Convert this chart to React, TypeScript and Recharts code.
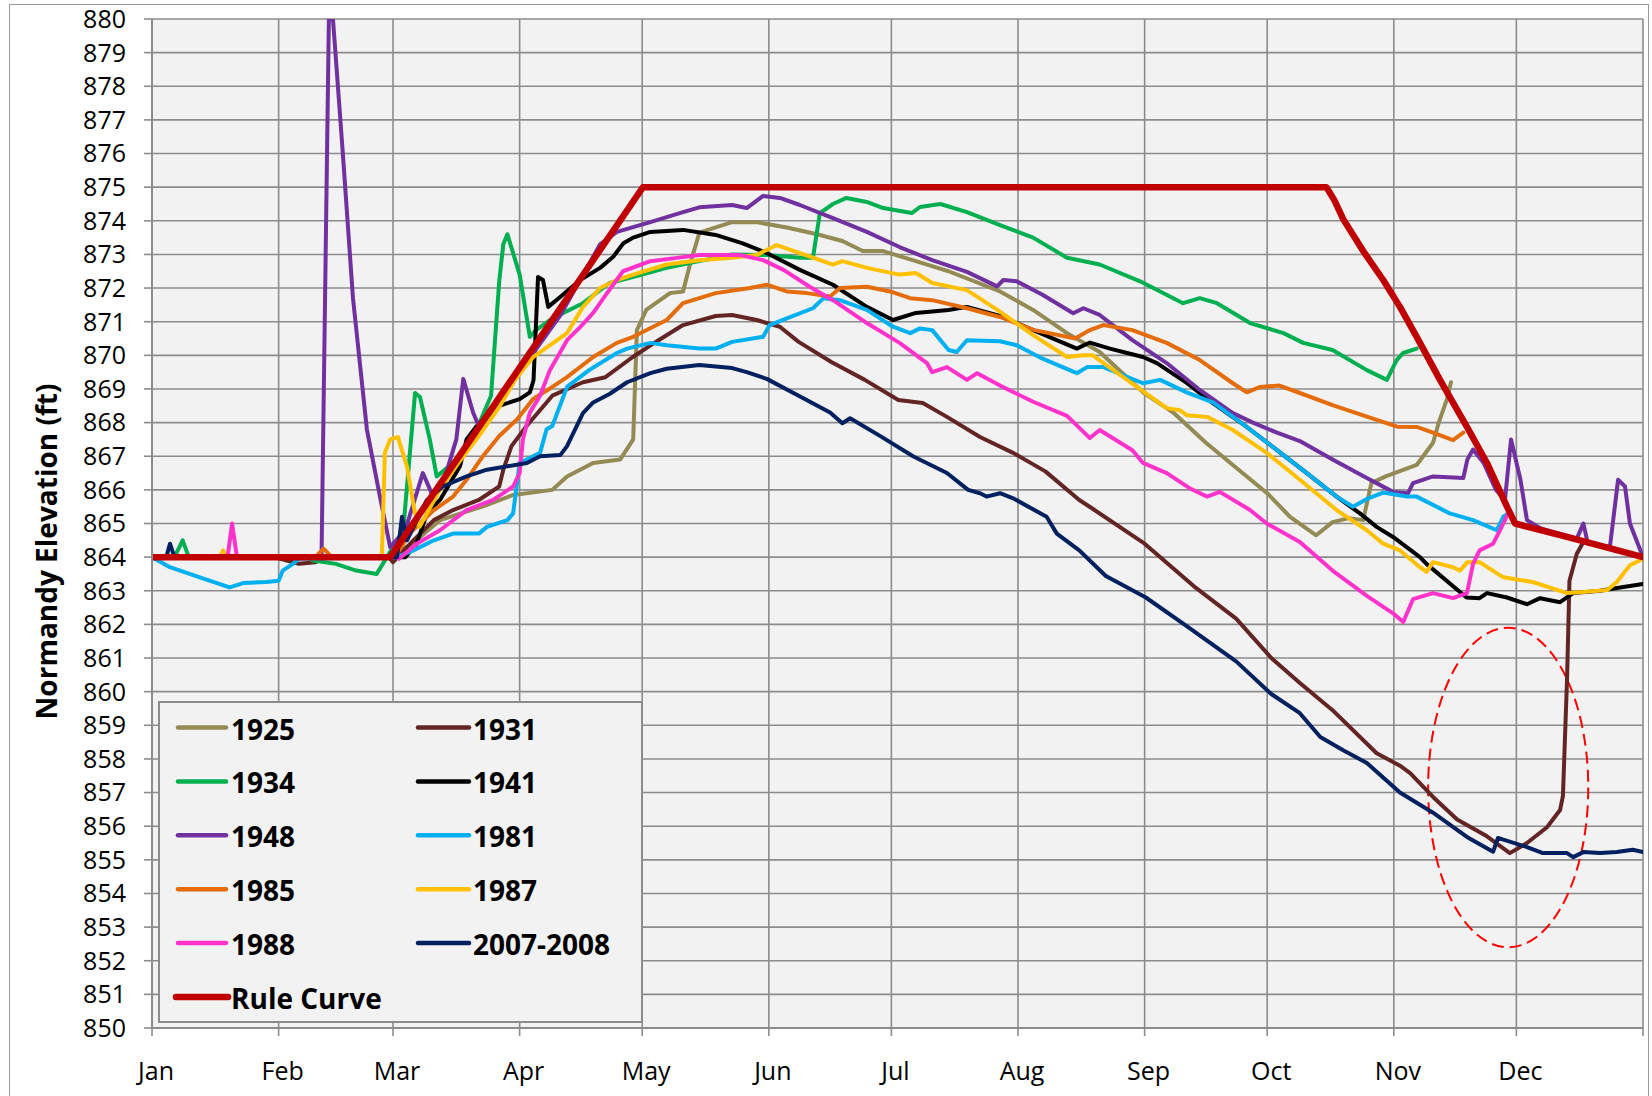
import React from 'react';
import { LineChart, Line, XAxis, YAxis, CartesianGrid, Legend, ReferenceArea } from 'recharts';

// ---------- axes ----------
const monthDays = [0, 31, 59, 90, 120, 151, 181, 212, 243, 273, 304, 334, 365];
const monthLabels = ['Jan', 'Feb', 'Mar', 'Apr', 'May', 'Jun', 'Jul', 'Aug', 'Sep', 'Oct', 'Nov', 'Dec', ''];
const elevationTicks = [850, 851, 852, 853, 854, 855, 856, 857, 858, 859, 860, 861, 862, 863, 864, 865, 866, 867, 868, 869, 870, 871, 872, 873, 874, 875, 876, 877, 878, 879, 880];

// ---------- series: [day of year, elevation ft] ----------
const s1925: [number, number][] = [[0,864],[58,864],[63.9,864.42],[70.5,865.1],[82,865.55],[88.4,865.85],[98,866.0],[101.6,866.4],[108,866.8],[114.6,866.9],[117.8,867.5],[118.7,870.75],[121,871.35],[126.8,871.85],[130,871.9],[131.7,872.7],[134,873.65],[142,873.96],[148,873.96],[155.4,873.8],[162.8,873.6],[169,873.4],[174,873.1],[179,873.1],[187,872.8],[195,872.5],[207.6,871.9],[215.7,871.35],[224,870.66],[232,870.1],[242.6,868.9],[250,868.3],[258,867.4],[266,866.6],[273,865.9],[278.6,865.2],[285,864.65],[289,865.04],[293,865.16],[296.5,865.1],[298.5,866.2],[302,866.4],[309.6,866.74],[313.6,867.4],[315,868.0],[317,868.7],[318,869.2]];
const s1931: [number, number][] = [[0,864],[30,864],[33,863.9],[36,863.8],[40,863.85],[43,864],[58,864],[59,863.85],[64,864.5],[69,865.1],[73.7,865.4],[80,865.7],[85,866.1],[86,866.6],[88,867.3],[91.7,867.9],[98,868.8],[105.5,869.2],[111,869.35],[117.7,869.95],[124,870.45],[130,870.9],[138,871.17],[142,871.2],[148,871.05],[153.7,870.85],[158.3,870.4],[166.3,869.8],[174.5,869.27],[182.7,868.67],[188.7,868.58],[194.6,868.17],[202.7,867.57],[210.8,867.1],[218.7,866.55],[227,865.7],[230,865.46],[243,864.4],[255,863.14],[265.4,862.17],[274,861.0],[281,860.26],[289,859.45],[299.8,858.17],[305.5,857.8],[308,857.58],[313.6,856.87],[319.5,856.2],[326.8,855.7],[332.4,855.2],[336.6,855.5],[341.5,855.97],[344.7,856.48],[345.4,856.9],[346.4,860.35],[347,863.3],[348.8,864.1],[350.4,864.45]];
const s1934: [number, number][] = [[0,864],[5.5,864],[7.5,864.5],[9,864],[38,864],[39.4,863.9],[45,863.8],[50,863.6],[55,863.5],[57.5,864.0],[61.5,864.8],[64.4,868.88],[65.6,868.76],[68,867.5],[69.7,866.4],[73.7,866.8],[77,867.2],[79.5,867.8],[83,868.8],[85,872.2],[86,873.3],[87,873.6],[90,872.4],[92.5,870.55],[94,870.75],[98,871.1],[105.5,871.55],[112,872.15],[117.7,872.33],[126,872.6],[134,872.8],[142,873.0],[150.5,872.98],[158.6,872.9],[161.8,872.9],[163.5,874.23],[166.7,874.5],[170,874.68],[175,874.56],[179,874.38],[186,874.23],[188,874.41],[193,874.5],[199.5,874.26],[207.6,873.87],[215.7,873.5],[224,872.9],[232,872.7],[241.9,872.2],[252.4,871.55],[256.5,871.7],[260.7,871.55],[268.8,870.96],[277,870.66],[281.8,870.37],[289,870.16],[297.4,869.56],[302.3,869.27],[304.7,869.86],[306.3,870.07],[309.6,870.2]];
const s1941: [number, number][] = [[0,864],[62,864],[64.8,864.4],[67.3,865.3],[70.5,865.7],[75.4,866.7],[77,867.5],[79.5,867.9],[85,868.5],[90,868.7],[92.5,868.9],[93.4,869.26],[94.5,872.33],[95.7,872.24],[97,871.44],[100,871.74],[104.8,872.24],[109.7,872.6],[112.9,872.93],[115.4,873.33],[117.8,873.5],[122,873.67],[130,873.73],[138,873.58],[144.6,873.33],[150.5,873.04],[158.6,872.54],[166.7,872.1],[175,871.44],[181.4,871.05],[187,871.26],[195,871.35],[199.5,871.44],[207.6,871.17],[215.7,870.75],[226.4,870.2],[229.6,870.38],[234.5,870.2],[238.7,870.07],[242.6,869.95],[246,869.77],[253.3,869.18],[259.7,868.58],[268,867.87],[275.4,867.18],[282.7,866.5],[290,865.8],[295.7,865.3],[299.8,864.9],[303.8,864.6],[310.4,864.0],[312,863.8],[321.8,862.8],[325,862.78],[326.8,862.93],[331.7,862.8],[336.6,862.6],[339.8,862.78],[344.7,862.66],[347.9,862.93],[354.5,863.0],[359.4,863.1],[365,863.2]];
const s1948: [number, number][] = [[0,864],[41.5,864],[43.3,880],[44.3,880],[46.6,876.2],[49.2,871.7],[52.6,867.8],[55.8,865.8],[58.3,864.3],[62,864.8],[66.3,866.5],[68.8,865.8],[72,866.5],[74.5,867.5],[76.2,869.3],[78.6,868.3],[80,867.9],[85,868.6],[90,869.5],[100,871.2],[109.7,873.3],[113.8,873.67],[122,873.96],[130,874.26],[134,874.4],[142,874.47],[145.6,874.38],[149.6,874.74],[153.7,874.68],[158.6,874.47],[166.7,874.08],[175,873.67],[183,873.22],[191,872.83],[199.5,872.48],[206.9,872.05],[208.4,872.24],[211.7,872.2],[218,871.8],[225.5,871.25],[228,871.4],[232,871.2],[240,870.45],[248.4,869.77],[256.5,868.97],[264.6,868.28],[269.5,868.0],[275.4,867.7],[281,867.45],[289,866.9],[297.4,866.35],[303.8,865.94],[307.5,865.9],[308.7,866.2],[313.6,866.4],[321,866.35],[322,866.9],[323.4,867.2],[326,866.8],[329,866.0],[331.2,865.7],[332.7,867.5],[335,866.3],[336.6,865.1],[340,864.85],[348.8,864.55],[350.4,865.0],[351.5,864.4],[356.9,864.3],[358.9,866.3],[360.6,866.1],[361.8,865.0],[365,864.0]];
const s1981: [number, number][] = [[0,864],[4.4,863.7],[11.7,863.4],[19,863.1],[22.3,863.23],[28,863.26],[31,863.3],[32,863.6],[34.5,863.8],[36,863.95],[60,864],[64,864.2],[69,864.5],[73.7,864.7],[80,864.7],[82,864.9],[87,865.1],[88.4,865.3],[90,866.8],[95,867.1],[96.6,867.8],[98,867.9],[101.6,869.06],[107,869.56],[113.8,870.07],[116.3,870.2],[122,870.37],[126,870.3],[134,870.2],[138,870.2],[142,870.4],[149.6,870.55],[151.2,870.9],[155.4,871.1],[161.8,871.4],[164.4,871.7],[168.4,871.64],[175,871.35],[181.4,870.85],[185.6,870.66],[188,870.8],[191,870.75],[195,870.16],[197,870.1],[199.5,870.45],[207.6,870.42],[211.7,870.3],[218,869.9],[226.4,869.47],[228.9,869.65],[232.9,869.65],[242.6,869.17],[246.8,869.27],[253.3,868.9],[259.7,868.6],[268,867.87],[275.4,867.18],[282.7,866.5],[290,865.8],[294,865.5],[297.4,865.73],[301.4,865.92],[307.2,865.8],[309.6,865.8],[317.7,865.3],[323.4,865.1],[329.2,864.8],[330.8,865.2],[332,865.3]];
const s1985: [number, number][] = [[0,864],[40,864],[42,864.25],[44,864],[59,864],[60,864.1],[63,864.7],[69,865.4],[73.7,865.8],[77,866.3],[81,867.0],[85,867.6],[89.4,868.1],[93.3,868.7],[98,869.06],[101.6,869.35],[108,869.95],[113.8,870.37],[117.8,870.55],[126,871.05],[130,871.55],[138,871.85],[146.4,872.0],[150.5,872.1],[155.4,871.9],[160.3,871.85],[166,871.75],[168.4,872.0],[175,872.04],[180.7,871.9],[185.6,871.7],[191,871.64],[199.5,871.4],[207.6,871.14],[216,870.75],[226,870.5],[229.6,870.75],[232.9,870.9],[240,870.75],[248.4,870.37],[256.5,869.86],[264.6,869.17],[268,868.9],[271.3,869.06],[276,869.1],[281,868.88],[289,868.52],[297.4,868.18],[304.8,867.88],[309.6,867.87],[313.6,867.7],[318.5,867.48],[321,867.7]];
const s1987: [number, number][] = [[0,864],[16.5,864],[17.4,864.2],[18.3,864],[55.8,864],[56.3,864.1],[57,867.1],[58.3,867.5],[60.2,867.57],[62.4,866.7],[64.4,865.3],[65.5,864.9],[70,865.9],[75,866.8],[80,867.6],[85.2,868.5],[89,869.3],[93.3,869.95],[101.6,870.66],[105.5,871.44],[109.7,872.0],[113.8,872.24],[117.8,872.4],[126,872.7],[134,872.83],[142,872.9],[148,872.98],[152.9,873.28],[158.6,873.04],[166.7,872.7],[169,872.8],[175,872.6],[183,872.4],[187,872.45],[191,872.15],[199.5,871.94],[207.6,871.3],[215.7,870.6],[224,869.95],[228,870.0],[230.3,870.0],[238.7,869.27],[248.4,868.43],[251.6,868.37],[253.3,868.22],[258.3,868.17],[264.6,867.78],[272.9,867.1],[281,866.3],[290,865.4],[297.4,864.8],[301.4,864.4],[305.5,864.2],[310.4,863.7],[312,863.56],[313.6,863.85],[318.5,863.7],[320.2,863.6],[322,863.85],[325,863.85],[330.8,863.4],[338,863.26],[346.4,862.93],[350.4,862.96],[356.2,863.02],[358.6,863.26],[361.8,863.76],[365,863.95]];
const s1988: [number, number][] = [[0,864],[18.5,864],[19.6,865],[20.8,864],[60,864],[60.5,863.95],[64.8,864.4],[70.5,864.8],[77,865.4],[83.5,865.7],[88.4,866.1],[90,866.5],[90.8,867.5],[92.5,868.3],[95,868.8],[97.4,869.56],[101.6,870.45],[104.8,870.84],[108,871.26],[111.4,871.85],[115.3,872.5],[122,872.8],[130,872.92],[134,872.98],[144,872.98],[149.6,872.83],[154.6,872.54],[161,872.04],[166.7,871.64],[175,870.96],[183,870.37],[189.7,869.77],[191,869.5],[194.6,869.65],[199.5,869.27],[202,869.47],[207.6,869.1],[215.7,868.62],[224,868.2],[229.6,867.54],[232,867.78],[240,867.18],[242.6,866.8],[248.4,866.5],[254,866.05],[258.3,865.8],[261.4,865.94],[268.8,865.4],[272.9,865.0],[281,864.45],[289,863.6],[297.4,862.85],[303.8,862.33],[306.3,862.07],[308.7,862.75],[313.6,862.93],[318.5,862.78],[321.9,862.93],[323.4,863.8],[325,864.2],[328.3,864.4],[330,864.8],[332,865.3]];
const s2007: [number, number][] = [[0,864],[3.5,864],[4.4,864.4],[5.5,864],[60,864],[61.2,865.2],[62.4,864.5],[67.3,865.7],[71.2,866.1],[77,866.4],[82,866.6],[87,866.7],[91.8,866.8],[95,867.0],[100,867.04],[101.6,867.3],[105.5,868.28],[108,868.6],[112,868.85],[116.3,869.2],[122,869.47],[126,869.6],[134,869.71],[142,869.62],[145.6,869.5],[150.5,869.3],[158.3,868.8],[166,868.3],[169,867.98],[170.9,868.13],[178,867.62],[186.3,867.0],[194.6,866.5],[199.8,866.0],[202.7,865.9],[204.3,865.8],[207.6,865.9],[210.8,865.75],[219,865.2],[221.5,864.7],[227,864.2],[233.5,863.44],[243.3,862.8],[253.3,861.95],[265.4,860.9],[274,859.93],[281,859.36],[286,858.65],[291.6,858.26],[297.4,857.88],[305.5,857.0],[313.6,856.4],[321.9,855.68],[328.3,855.24],[329.5,855.65],[330.8,855.6],[336.6,855.38],[340.5,855.2],[346.4,855.2],[347.9,855.08],[350.4,855.23],[354.5,855.2],[358.6,855.23],[362.5,855.3],[365,855.23]];
const sRule: [number, number][] = [[0,864],[58.3,864],[120.2,875],[287.5,875],[289.5,874.6],[291.6,874.05],[296.5,873.1],[301.4,872.24],[305.5,871.44],[309.6,870.55],[315.3,869.27],[321.9,867.87],[326.8,866.8],[331.7,865.5],[333.7,865.0],[346.4,864.6],[365,864.0]];

// annotation ellipse bounds (day, ft)
const ellipseDays = [312.4, 351.6];
const ellipseFeet = [852.4, 861.9];

const seriesNames = ['1925', '1931', '1934', '1941', '1948', '1981', '1985', '1987', '1988', '2007-2008', 'Rule Curve'];
const seriesColors = ['#948A54', '#632523', '#00B050', '#000000', '#7030A0', '#00B0F0', '#E46C0A', '#FFC000', '#FF33CC', '#002060', '#C00000'];
const seriesValues = [s1925, s1931, s1934, s1941, s1948, s1981, s1985, s1987, s1988, s2007, sRule];

const toPoints = (arr: [number, number][]) => arr.map(([d, v]) => ({ d, v }));

const FONT = "'Open Sans', 'DejaVu Sans', sans-serif";
const GRID = '#8C8C8C';

const LegendBox = () => {
  const W = 485;
  const H = 322;
  return (
    <svg width={W} height={H} style={{ display: 'block' }}>
      <rect x={1} y={1} width={W - 2} height={H - 2} fill="#F2F2F2" stroke="#8C8C8C" strokeWidth={2} />
      {seriesNames.map((name, i) => {
        const row = Math.floor(i / 2);
        const col = i % 2;
        const y = 26.5 + row * 53.9;
        const isRule = name === 'Rule Curve';
        const lx = col === 0 ? (isRule ? 18 : 20) : 260;
        const lw = isRule ? 52 : col === 0 ? 48 : 51;
        const tx = col === 0 ? 73 : 315;
        return (
          <g key={name}>
            <line x1={lx} y1={y} x2={lx + lw} y2={y} stroke={seriesColors[i]} strokeWidth={isRule ? 6.5 : 4.5} strokeLinecap="round" />
            <text x={tx} y={y + 1} dominantBaseline="central" fontFamily={FONT} fontWeight={700} fontSize={28} fill="#000">
              {name}
            </text>
          </g>
        );
      })}
    </svg>
  );
};

const EllipseShape = (p: any) => (
  <ellipse
    cx={p.x + p.width / 2}
    cy={p.y + p.height / 2}
    rx={Math.abs(p.width) / 2}
    ry={Math.abs(p.height) / 2}
    fill="none"
    stroke="#FF0000"
    strokeWidth={2}
    strokeDasharray="12 6"
  />
);

export default function App() {
  return (
    <div style={{ position: 'absolute', left: 0, top: 0, width: 1652, height: 1096, background: '#FFFFFF', fontFamily: FONT, overflow: 'hidden' }}>
      <div style={{ position: 'absolute', left: 9, top: 4, width: 1640, height: 1092, boxSizing: 'border-box', borderLeft: '1.5px solid #999', borderTop: '1.5px solid #999', borderRight: '1.5px solid #999' }} />
      <div style={{ position: 'absolute', left: 0, top: 0 }}>
        <LineChart width={1652} height={1096} margin={{ top: 19, right: 9, bottom: 0, left: 0 }}>
          <CartesianGrid stroke={GRID} strokeWidth={1.6} fill="#F2F2F2" fillOpacity={1} />
          <XAxis
            type="number"
            dataKey="d"
            domain={[0, 365]}
            ticks={monthDays}
            tickFormatter={(v: number) => monthLabels[monthDays.indexOf(v)] ?? ''}
            interval={0}
            height={68}
            tickSize={8}
            tickMargin={26}
            allowDataOverflow
            axisLine={{ stroke: GRID, strokeWidth: 2 }}
            tickLine={{ stroke: GRID, strokeWidth: 1.6 }}
            tick={{ fill: '#000', fontSize: 25, fontFamily: FONT, dx: 4 }}
          />
          <YAxis
            type="number"
            domain={[850, 880]}
            ticks={elevationTicks}
            interval={0}
            width={152}
            tickSize={8}
            tickMargin={18}
            allowDataOverflow
            axisLine={{ stroke: GRID, strokeWidth: 2 }}
            tickLine={{ stroke: GRID, strokeWidth: 1.6 }}
            tick={{ fill: '#000', fontSize: 25, fontFamily: FONT }}
            label={{
              value: 'Normandy Elevation (ft)',
              angle: -90,
              position: 'center',
              dx: -29,
              dy: 28,
              style: { fontSize: 28, fontWeight: 700, fontFamily: FONT, fill: '#000' },
            }}
          />
          <ReferenceArea
            x1={ellipseDays[0]}
            x2={ellipseDays[1]}
            y1={ellipseFeet[0]}
            y2={ellipseFeet[1]}
            shape={EllipseShape}
            ifOverflow="visible"
          />
          {seriesNames.map((name, i) => (
            <Line
              key={name}
              name={name}
              data={toPoints(seriesValues[i])}
              dataKey="v"
              type="linear"
              stroke={seriesColors[i]}
              strokeWidth={name === 'Rule Curve' ? 6.5 : 4}
              strokeLinejoin="round"
              strokeLinecap="round"
              dot={false}
              activeDot={false}
              isAnimationActive={false}
            />
          ))}
          <Legend
            layout="horizontal"
            verticalAlign="middle"
            align="center"
            wrapperStyle={{ left: 158, top: 701, width: 485, height: 322 }}
            content={() => <LegendBox />}
          />
        </LineChart>
      </div>
    </div>
  );
}
